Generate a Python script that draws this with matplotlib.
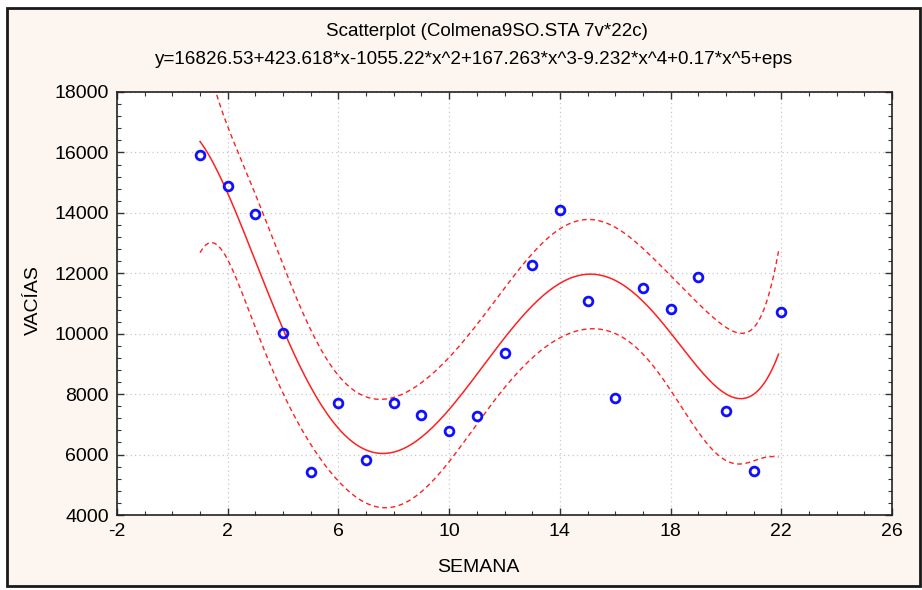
import numpy as np
import matplotlib
matplotlib.use("Agg")
import matplotlib.pyplot as plt
from matplotlib.patches import Rectangle
from matplotlib.ticker import MultipleLocator

plt.rcParams['font.family'] = ['Liberation Sans Narrow', 'Liberation Sans', 'DejaVu Sans']
plt.rcParams['axes.unicode_minus'] = False

# Weekly observations
semana = [1, 2, 3, 4, 5, 6, 7, 8, 9, 10, 11, 12, 13, 14, 15, 16, 17, 18, 19, 20, 21, 22]
vacias = [15912, 14884, 13978, 10022, 5414, 7713, 5812, 7713, 7319, 6769, 7286, 9352,
          12286, 14110, 11088, 7878, 11513, 10816, 11889, 7435, 5458, 10716]

title_text = "Scatterplot (Colmena9SO.STA 7v*22c)"
equation_text = "y=16826.53+423.618*x-1055.22*x^2+167.263*x^3-9.232*x^4+0.17*x^5+eps"
x_ticks = [-2, 2, 6, 10, 14, 18, 22, 26]
y_ticks = [4000, 6000, 8000, 10000, 12000, 14000, 16000, 18000]

x = np.array(semana, dtype=float)
y = np.array(vacias, dtype=float)

# Fifth-order polynomial regression with 95% confidence band for the mean
deg = 5
X = np.vander(x, deg + 1)
beta, *_ = np.linalg.lstsq(X, y, rcond=None)
resid = y - X @ beta
dof = len(x) - (deg + 1)
s2 = resid @ resid / dof
XtX_inv = np.linalg.inv(X.T @ X)
t_crit = 2.1199  # t(0.975, 16)

# Curve traced in steps of 0.1 from the first week (last step stops short of the end)
step = 0.1
n_steps = int(round((x.max() - x.min()) / step))
xs = x.min() + step * np.arange(n_steps)
Xs = np.vander(xs, deg + 1)
fit = Xs @ beta
se = np.sqrt(s2 * np.einsum('ij,jk,ik->i', Xs, XtX_inv, Xs))
upper = fit + t_crit * se
lower = fit - t_crit * se

W, H = 922, 590
fig = plt.figure(figsize=(W / 100, H / 100), dpi=100, facecolor='white')

# Framed panel background
fig.patches.append(Rectangle((7 / W, 1 - 586 / H), (920 - 7) / W, (586 - 8) / H,
                             transform=fig.transFigure, facecolor='#fdf6f0',
                             edgecolor='#1a1a1a', linewidth=2.0, zorder=-10))

ax = fig.add_axes([117 / W, 1 - 515 / H, (892 - 117) / W, (515 - 92) / H])
ax.set_facecolor('white')

ax.plot(xs, upper, color='#ff2020', lw=1.0, ls=(0, (3.5, 2.5)), zorder=3)
ax.plot(xs, lower, color='#ff2020', lw=1.0, ls=(0, (3.5, 2.5)), zorder=3)
ax.plot(xs, fit, color='#ff2020', lw=1.1, zorder=3)
ax.plot(x, y, ls='none', marker='o', ms=6.3, mfc='none', mec='#1010ff', mew=2.0, zorder=4)

ax.set_xlim(-2, 26)
ax.set_ylim(4000, 18000)
ax.set_xticks(x_ticks)
ax.set_yticks(y_ticks)
ax.xaxis.set_minor_locator(MultipleLocator(1))
ax.yaxis.set_minor_locator(MultipleLocator(400))
ax.tick_params(which='both', direction='in', top=True, right=True, color='#333333')
ax.tick_params(which='major', length=5, width=1.0, labelsize=14, pad=6)
ax.tick_params(which='minor', length=3, width=0.8)
ax.grid(True, which='major', color='#c8c8c8', ls=(0, (1, 2.5)), lw=0.9)
for sp in ax.spines.values():
    sp.set_color('#222222')
    sp.set_linewidth(1.2)

fig.text(478 / W, 1 - 567 / H, "SEMANA", ha='center', va='center', fontsize=14)
fig.text(33 / W, 1 - 300 / H, "VACÍAS", ha='center', va='center', fontsize=14, rotation=90)
fig.text(487 / W, 1 - 32 / H, title_text, ha='center', va='center', fontsize=13.5)
fig.text(474 / W, 1 - 60 / H, equation_text, ha='center', va='center', fontsize=13.6)

fig.savefig("out.png", dpi=100, facecolor=fig.get_facecolor())
